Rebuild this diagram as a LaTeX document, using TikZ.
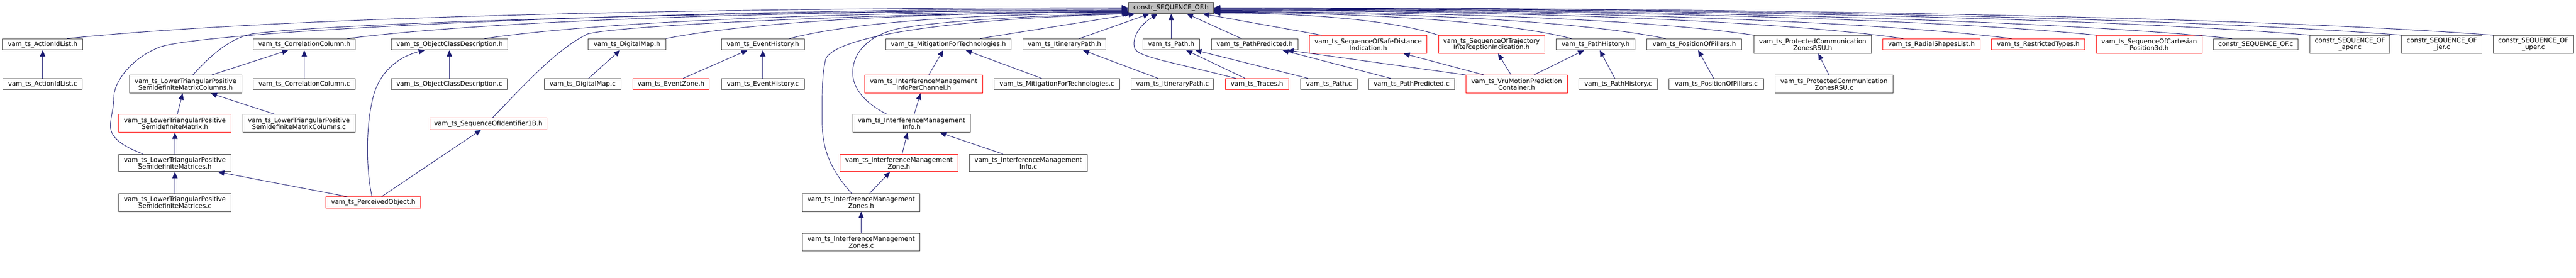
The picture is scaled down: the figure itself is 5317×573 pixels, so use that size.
\documentclass[tikz,border=0pt]{standalone}
\usepackage{fontspec}
\setmainfont{DejaVu Sans}
\usetikzlibrary{arrows.meta,calc}
\definecolor{edgec}{HTML}{191970}
\definecolor{bord}{HTML}{404040}
\definecolor{redb}{HTML}{FF0000}
\definecolor{rootfill}{HTML}{BFBFBF}
\tikzset{
  filebox/.style={draw=bord, line width=0.75pt, inner sep=0pt, align=center,
    font=\fontsize{9.9}{10.3}\selectfont},
  redbox/.style={filebox, draw=redb},
  rootbox/.style={filebox, fill=rootfill},
  dep/.style={draw=edgec, line width=0.75pt, -{Triangle[length=9.75pt,width=8.25pt]}}
}
\newcommand\bx[7]{\node[#2, minimum width={(#5-#3)*0.75pt}, minimum height={(#6-#4)*0.75pt}] (#1) at ({(#3+#5)/2},{(#4+#6)/2}) {#7};}
\begin{document}
\begin{tikzpicture}[x=0.75pt,y=-0.75pt]
\useasboundingbox (0,0) rectangle (5317,573);
% root
\bx{root}{rootbox}{2329}{5}{2505}{28}{constr\_SEQUENCE\_OF.h}
% row 1
\bx{n1}{filebox}{5}{80}{171}{103}{vam\_ts\_ActionIdList.h}
\bx{n2}{filebox}{523}{80}{733}{103}{vam\_ts\_CorrelationColumn.h}
\bx{n3}{filebox}{808}{80}{1048}{103}{vam\_ts\_ObjectClassDescription.h}
\bx{n4}{filebox}{1214}{80}{1374}{103}{vam\_ts\_DigitalMap.h}
\bx{n5}{filebox}{1489}{80}{1660}{103}{vam\_ts\_EventHistory.h}
\bx{n6}{filebox}{1828}{80}{2087}{103}{vam\_ts\_MitigationForTechnologies.h}
\bx{n7}{filebox}{2111}{80}{2283}{103}{vam\_ts\_ItineraryPath.h}
\bx{n8}{filebox}{2359}{80}{2476}{103}{vam\_ts\_Path.h}
\bx{n9}{filebox}{2500}{80}{2679}{103}{vam\_ts\_PathPredicted.h}
\bx{n10}{redbox}{2703}{73}{2945}{110}{vam\_ts\_SequenceOfSafeDistance\\Indication.h}
\bx{n11}{redbox}{2969}{73}{3188}{110}{vam\_ts\_SequenceOfTrajectory\\InterceptionIndication.h}
\bx{n12}{filebox}{3212}{80}{3375}{103}{vam\_ts\_PathHistory.h}
\bx{n13}{filebox}{3399}{80}{3595}{103}{vam\_ts\_PositionOfPillars.h}
\bx{n14}{filebox}{3620}{73}{3863}{110}{vam\_ts\_ProtectedCommunication\\ZonesRSU.h}
\bx{n15}{redbox}{3886}{80}{4087}{103}{vam\_ts\_RadialShapesList.h}
\bx{n16}{redbox}{4111}{80}{4303}{103}{vam\_ts\_RestrictedTypes.h}
\bx{n17}{redbox}{4327}{73}{4545}{110}{vam\_ts\_SequenceOfCartesian\\Position3d.h}
\bx{n18}{filebox}{4569}{80}{4743}{103}{constr\_SEQUENCE\_OF.c}
\bx{n19}{filebox}{4768}{73}{4933}{110}{constr\_SEQUENCE\_OF\\\_aper.c}
\bx{n20}{filebox}{4957}{73}{5123}{110}{constr\_SEQUENCE\_OF\\\_jer.c}
\bx{n21}{filebox}{5146}{73}{5312}{110}{constr\_SEQUENCE\_OF\\\_uper.c}
% row 2
\bx{m1}{filebox}{6}{162}{170}{185}{vam\_ts\_ActionIdList.c}
\bx{m2}{filebox}{267}{155}{499}{192}{vam\_ts\_LowerTriangularPositive\\SemidefiniteMatrixColumns.h}
\bx{m3}{filebox}{523}{162}{733}{185}{vam\_ts\_CorrelationColumn.c}
\bx{m4}{filebox}{808}{162}{1047}{185}{vam\_ts\_ObjectClassDescription.c}
\bx{m5}{filebox}{1123}{162}{1282}{185}{vam\_ts\_DigitalMap.c}
\bx{m6}{redbox}{1306}{162}{1464}{185}{vam\_ts\_EventZone.h}
\bx{m7}{filebox}{1489}{162}{1660}{185}{vam\_ts\_EventHistory.c}
\bx{m8}{redbox}{1785}{155}{2028}{192}{vam\_ts\_InterferenceManagement\\InfoPerChannel.h}
\bx{m9}{filebox}{2052}{162}{2311}{185}{vam\_ts\_MitigationForTechnologies.c}
\bx{m10}{filebox}{2335}{162}{2505}{185}{vam\_ts\_ItineraryPath.c}
\bx{m11}{redbox}{2529}{162}{2660}{185}{vam\_ts\_Traces.h}
\bx{m12}{filebox}{2685}{162}{2801}{185}{vam\_ts\_Path.c}
\bx{m13}{filebox}{2825}{162}{3002}{185}{vam\_ts\_PathPredicted.c}
\bx{m14}{redbox}{3026}{155}{3235}{192}{vam\_ts\_VruMotionPrediction\\Container.h}
\bx{m15}{filebox}{3259}{162}{3421}{185}{vam\_ts\_PathHistory.c}
\bx{m16}{filebox}{3445}{162}{3640}{185}{vam\_ts\_PositionOfPillars.c}
\bx{m17}{filebox}{3664}{155}{3907}{192}{vam\_ts\_ProtectedCommunication\\ZonesRSU.c}
% row 3
\bx{r1}{redbox}{245}{236}{477}{273}{vam\_ts\_LowerTriangularPositive\\SemidefiniteMatrix.h}
\bx{r2}{filebox}{501}{236}{733}{273}{vam\_ts\_LowerTriangularPositive\\SemidefiniteMatrixColumns.c}
\bx{r3}{redbox}{887}{243}{1129}{267}{vam\_ts\_SequenceOfIdentifier1B.h}
\bx{r4}{filebox}{1760}{236}{2003}{273}{vam\_ts\_InterferenceManagement\\Info.h}
% row 4
\bx{q1}{filebox}{245}{318}{477}{354}{vam\_ts\_LowerTriangularPositive\\SemidefiniteMatrices.h}
\bx{q2}{redbox}{1734}{318}{1977}{354}{vam\_ts\_InterferenceManagement\\Zone.h}
\bx{q3}{filebox}{2001}{318}{2244}{354}{vam\_ts\_InterferenceManagement\\Info.c}
% row 5
\bx{p1}{filebox}{245}{399}{477}{436}{vam\_ts\_LowerTriangularPositive\\SemidefiniteMatrices.c}
\bx{p2}{redbox}{673}{406}{868}{429}{vam\_ts\_PerceivedObject.h}
\bx{p3}{filebox}{1656}{399}{1899}{436}{vam\_ts\_InterferenceManagement\\Zones.h}
% row 6
\bx{s1}{filebox}{1656}{481}{1899}{517}{vam\_ts\_InterferenceManagement\\Zones.c}

% ---- edges into root from the left
\draw[dep] ($(n1.north)+(50,0)$) .. controls (576,35) and (1453,16) .. ($(root.west)+(0,-0.5)$);
\draw[dep] ($(q1.north)+(-66,0)$) .. controls (255,302) and (228,285) .. (228,260) .. controls (228,240) and (235,225) .. (235,200) .. controls (235,170) and (270,120) .. (330,97) .. controls (420,65) and (1300,19) .. ($(root.west)+(0,1.5)$);
\draw[dep] ($(m2.north)+(15,0)$) .. controls (430,120) and (470,80) .. (520,70) .. controls (700,45) and (1600,22) .. ($(root.west)+(0,3.5)$);
\draw[dep] ($(n2.north)+(89,0)$) .. controls (1039,39) and (1684,22) .. ($(root.west)+(0,5.5)$);
\draw[dep] ($(n3.north)+(72,0)$) .. controls (1266,41) and (1797,24) .. ($(root.west)+(0,7.5)$);
\draw[dep] ($(r3.north)+(9,0)$) .. controls (1080,177) and (1150,100) .. (1213,70) .. controls (1290,50) and (1900,25) .. ($(root.west)+(0,8.5)$);
\draw[dep] (n4.north east) .. controls (1565,42) and (1947,25) .. ($(root.west)+(0,9)$);
\draw[dep] ($(n5.north)+(55,0)$) .. controls (1770,43) and (2050,27) .. ($(root.south west)+(1,0)$);
\draw[dep] ($(p3.north)+(-20,0)$) .. controls (1715,350) and (1697,310) .. (1697,250) .. controls (1697,200) and (1696,150) .. (1705,120) .. controls (1730,75) and (1950,40) .. ($(root.south west)+(3,0)$);
\draw[dep] ($(r4.north)+(-51,0)$) .. controls (1790,215) and (1760,185) .. (1760,150) .. controls (1760,110) and (1790,75) .. (1850,60) .. controls (1950,40) and (2200,30) .. ($(root.south west)+(7,0)$);
\draw[dep] ($(n6.north)+(65,0)$) -- ($(root.south west)+(14,0)$);
\draw[dep] ($(n7.north)+(31,0)$) -- ($(root.south west)+(44,0)$);
\draw[dep] ($(m11.north)+(-44,0)$) .. controls (2420,128) and (2350,118) .. (2342,100) .. controls (2335,75) and (2355,50) .. ($(root.south west)+(61,0)$);
\draw[dep] (n8.north) -- (n8.north |- root.south);
\draw[dep] ($(n9.north)+(-27,0)$) -- ($(root.south west)+(121,0)$);
\draw[dep] ($(n10.north)+(-96,0)$) -- ($(root.south west)+(154,0)$);
% ---- edges into root from the right
\draw[dep] (n11.north west) .. controls (2876,41) and (2691,27) .. ($(root.east)+(0,10.5)$);
\draw[dep] ($(n12.north)+(-50,0)$) .. controls (3095,42) and (2800,26) .. ($(root.east)+(0,9.5)$);
\draw[dep] ($(n13.north)+(-59,0)$) .. controls (3251,41.5) and (2878,25) .. ($(root.east)+(0,8.5)$);
\draw[dep] (n14.north west) .. controls (3397,39) and (2951,24) .. ($(root.east)+(0,7.5)$);
\draw[dep] ($(n15.north)+(-58,0)$) .. controls (3643,39) and (3074,22) .. ($(root.east)+(0,5.5)$);
\draw[dep] ($(n16.north)+(-55,0)$) .. controls (3823,39) and (3164,21) .. ($(root.east)+(0,4.5)$);
\draw[dep] (n17.north west) .. controls (3963,36) and (3234,20) .. ($(root.east)+(0,3.5)$);
\draw[dep] ($(n18.north)+(-49,0)$) .. controls (4187,37) and (3346,19) .. ($(root.east)+(0,2.5)$);
\draw[dep] (n19.north west) .. controls (4315,34.5) and (3410,18) .. ($(root.east)+(0,1.5)$);
\draw[dep] (n20.north west) .. controls (4467,34) and (3486,17) .. ($(root.east)+(0,0.5)$);
\draw[dep] (n21.north west) .. controls (4618,33) and (3561,16) .. ($(root.east)+(0,-0.5)$);
% ---- other edges
\draw[dep] (m1.north) -- (n1.south);
\draw[dep] ($(m2.north)+(54,0)$) -- ($(n2.south)+(-33,0)$);
\draw[dep] ($(r1.north)+(5,0)$) -- ($(m2.south)+(-6,0)$);
\draw[dep] ($(r2.north)+(-50,0)$) -- ($(m2.south)+(52,0)$);
\draw[dep] (q1.north) -- (r1.south);
\draw[dep] (p1.north) -- (q1.south);
\draw[dep] (m3.north) -- (n2.south);
\draw[dep] (m4.north) -- (m4.north |- n3.south);
\draw[dep] ($(p2.north)+(-2.5,0)$) .. controls (757,360) and (752,260) .. (773,190) .. controls (790,140) and (830,115) .. ($(n3.south)+(-51,0)$);
\draw[dep] ($(p2.north)+(-53.5,0)$) -- ($(q1.south)+(89,0)$);
\draw[dep] ($(p2.north)+(17,0)$) -- ($(r3.south)+(-15,0)$);
\draw[dep] ($(m5.north)+(12.5,0)$) -- ($(n4.south)+(-14,0)$);
\draw[dep] ($(m6.north)+(25,0)$) -- ($(n5.south)+(-31.5,0)$);
\draw[dep] (m7.north) -- (n5.south);
\draw[dep] ($(m8.north)+(10.5,0)$) -- ($(n6.south)+(-10.5,0)$);
\draw[dep] ($(m9.north)+(-31.5,0)$) -- ($(n6.south)+(35.5,0)$);
\draw[dep] ($(r4.north)+(5.5,0)$) -- ($(m8.south)+(-6.5,0)$);
\draw[dep] ($(q2.north)+(6.5,0)$) -- ($(r4.south)+(-8.5,0)$);
\draw[dep] ($(q3.north)+(-52.5,0)$) -- ($(r4.south)+(58.5,0)$);
\draw[dep] ($(p3.north)+(17.5,0)$) -- ($(q2.south)+(-18.5,0)$);
\draw[dep] (s1.north) -- (p3.south);
\draw[dep] ($(m10.north)+(-30,0)$) -- ($(n7.south)+(38,0)$);
\draw[dep] ($(m11.north)+(-24.5,0)$) -- ($(n8.south)+(30.5,0)$);
\draw[dep] ($(m12.north)+(-43,0)$) -- ($(n8.south)+(49.5,0)$);
\draw[dep] ($(m13.north)+(-43.5,0)$) -- ($(n9.south)+(57.5,0)$);
\draw[dep] (m14.north west) -- ($(n9.south)+(67.5,0)$);
\draw[dep] ($(m14.north)+(-67.5,0)$) -- ($(n10.south)+(73,0)$);
\draw[dep] ($(m14.north)+(-11.5,0)$) -- ($(n11.south)+(13.5,0)$);
\draw[dep] ($(m14.north)+(35.5,0)$) -- ($(n12.south)+(-23.5,0)$);
\draw[dep] ($(m15.north)+(-7,0)$) -- ($(n12.south)+(8.5,0)$);
\draw[dep] ($(m16.north)+(-5.5,0)$) -- ($(n13.south)+(8,0)$);
\draw[dep] ($(m17.north)+(-10.5,0)$) -- ($(n14.south)+(11.5,0)$);
\end{tikzpicture}
\end{document}
